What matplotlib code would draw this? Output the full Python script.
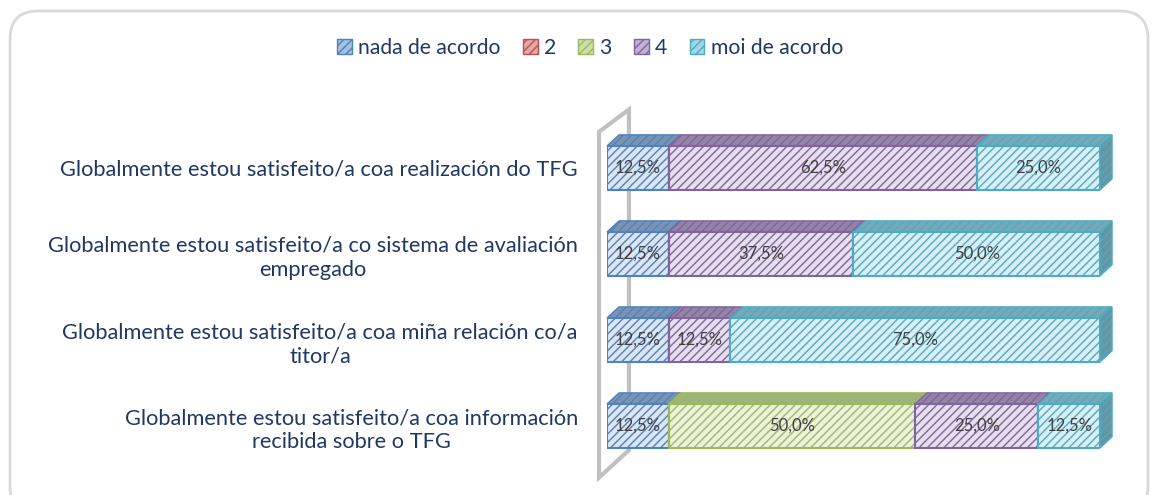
import numpy as np
import matplotlib.pyplot as plt
import matplotlib.transforms as mtransforms
from matplotlib.patches import Polygon, Patch, FancyBboxPatch
from matplotlib.colors import to_rgb

plt.rcParams['font.family'] = ['Lato', 'DejaVu Sans']
plt.rcParams['hatch.linewidth'] = 1.0

# Data (top to bottom)
questions = [
    "Globalmente estou satisfeito/a coa realización do TFG",
    "Globalmente estou satisfeito/a co sistema de avaliación\nempregado",
    "Globalmente estou satisfeito/a coa miña relación co/a\ntitor/a",
    "Globalmente estou satisfeito/a coa información\nrecibida sobre o TFG",
]
levels = ["nada de acordo", "2", "3", "4", "moi de acordo"]
nada = [12.5, 12.5, 12.5, 12.5]
dous = [0.0, 0.0, 0.0, 0.0]
tres = [0.0, 0.0, 0.0, 50.0]
catro = [62.5, 37.5, 12.5, 25.0]
moi = [25.0, 50.0, 75.0, 12.5]
series = [nada, dous, tres, catro, moi]

colors = ["#4F81BD", "#C0504D", "#9BBB59", "#8064A2", "#4BACC6"]
navy = "#1F3864"


def mix(c, other, t):
    a = np.array(to_rgb(c))
    b = np.array(to_rgb(other))
    return tuple(a * (1 - t) + b * t)


fig = plt.figure(figsize=(11.57, 4.95), dpi=100)

# outer rounded frame
frame = FancyBboxPatch((0.10, -0.20), 11.38, 5.04,
                       boxstyle="round,pad=0,rounding_size=0.28",
                       transform=fig.dpi_scale_trans, fill=False,
                       edgecolor="#D9D9D9", linewidth=2)
fig.patches.append(frame)

ax = fig.add_axes([0.5246, 0.0525, 0.4261, 0.695])
ax.set_xlim(0, 100)
ax.set_ylim(3.5, -0.5)

h = 0.51      # bar thickness
dx = 2.45     # depth offset (x units)
dy = 0.13     # depth offset (category units)

# side wall
wall = Polygon([(-1.62, 3.60), (-1.62, -0.42), (4.46, -0.68), (4.46, 3.28)],
               closed=True, fill=False, edgecolor="#C0C0C0", linewidth=3,
               zorder=1, clip_on=False)
ax.add_patch(wall)

y = np.arange(len(questions))
left = np.zeros(len(questions))
for vals, col in zip(series, colors):
    vals = np.array(vals)
    for i in range(len(questions)):
        v = vals[i]
        if v <= 0:
            continue
        l = left[i]
        top = y[i] - h / 2
        # top face
        ax.add_patch(Polygon([(l, top), (l + v, top), (l + v + dx, top - dy), (l + dx, top - dy)],
                             closed=True, facecolor=mix(col, "#A6A6A6", 0.5),
                             edgecolor=col, hatch="////", linewidth=1.0,
                             zorder=2, clip_on=False))
    ax.barh(y, np.where(vals > 0, vals, 0), left=left, height=h,
            color=[mix(col, "white", 0.8)] * len(y), edgecolor=col,
            hatch="////", linewidth=1.5, zorder=3)
    for i in range(len(questions)):
        v = vals[i]
        if v > 0:
            ax.text(left[i] + v / 2, y[i], f"{v:.1f}%".replace(".", ","),
                    ha="center", va="center", fontsize=12, color="#404040", zorder=5)
    left = left + vals

# right side face of each bar
for i in range(len(questions)):
    last = [k for k in range(len(series)) if series[k][i] > 0][-1]
    col = colors[last]
    r = left[i]
    top = y[i] - h / 2
    bot = y[i] + h / 2
    ax.add_patch(Polygon([(r, top), (r + dx, top - dy), (r + dx, bot - dy), (r, bot)],
                         closed=True, facecolor=mix(col, "#7F7F7F", 0.55),
                         edgecolor=col, hatch="////", linewidth=1.0,
                         zorder=2, clip_on=False))

ax.set_yticks(y, questions)
shift = mtransforms.ScaledTranslation(0, -5 / 100, fig.dpi_scale_trans)
for lbl in ax.get_yticklabels():
    lbl.set_multialignment("center")
    lbl.set_linespacing(1.25)
    lbl.set_transform(lbl.get_transform() + shift)
ax.tick_params(axis="y", length=0, pad=21, labelsize=15.7, labelcolor=navy)
ax.set_xticks([])
for s in ax.spines.values():
    s.set_visible(False)
ax.patch.set_visible(False)

handles = [Patch(facecolor=mix(c, "white", 0.5), edgecolor=c, hatch="////", linewidth=1)
           for c in colors]
fig.legend(handles, levels, loc="center", bbox_to_anchor=(0.51, 0.903), ncol=5,
           frameon=False, fontsize=15.2, labelcolor=navy, handlelength=0.7,
           handleheight=0.7, handletextpad=0.3, columnspacing=1.05)

fig.savefig("out.png", dpi=100)
